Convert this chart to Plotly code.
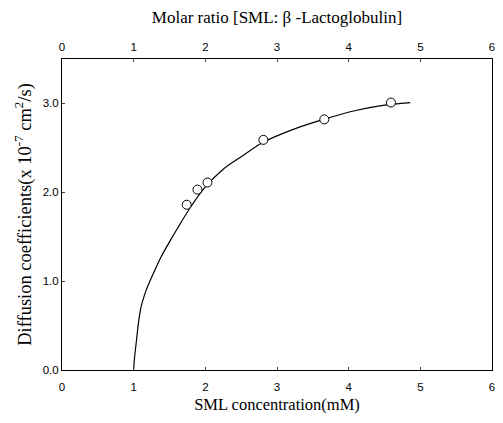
import plotly.graph_objects as go

# Measured data points (SML concentration mM, diffusion coefficient x1e-7 cm^2/s)
conc = [1.74, 1.89, 2.03, 2.81, 3.66, 4.59]
diff = [1.86, 2.03, 2.11, 2.59, 2.82, 3.01]

# Fitted curve
curve_x = [1.0, 1.01, 1.04, 1.07, 1.10, 1.13, 1.18, 1.26, 1.38, 1.52, 1.66, 1.8, 2.0, 2.25, 2.5, 2.8, 3.2, 3.65, 4.1, 4.5, 4.86]
curve_y = [0.0, 0.12, 0.34, 0.55, 0.70, 0.79, 0.91, 1.06, 1.27, 1.47, 1.66, 1.84, 2.06, 2.26, 2.40, 2.56, 2.70, 2.82, 2.92, 2.98, 3.01]

x_ticks = [0, 1, 2, 3, 4, 5, 6]
y_ticks = [0.0, 1.0, 2.0, 3.0]
y_tick_labels = ["0.0", "1.0", "2.0", "3.0"]

fig = go.Figure()
fig.add_trace(go.Scatter(x=curve_x, y=curve_y, mode="lines",
                         line=dict(color="black", width=1.2, shape="spline", smoothing=0.7),
                         showlegend=False, hoverinfo="skip"))
fig.add_trace(go.Scatter(x=conc, y=diff, mode="markers",
                         marker=dict(symbol="circle", size=9, color="white",
                                     line=dict(color="black", width=1)),
                         showlegend=False))
# invisible trace on top axis
fig.add_trace(go.Scatter(x=[0, 6], y=[0, 0], xaxis="x2", mode="lines",
                         line=dict(width=0), showlegend=False, hoverinfo="skip"))

tickfont = dict(family="Liberation Sans, Arial", size=11.5, color="black")
titlefont = dict(family="Liberation Serif, Times New Roman", size=16.5, color="black")
toptitlefont = dict(family="Liberation Serif, Times New Roman", size=17, color="black")
ytitlefont = dict(family="Liberation Serif, Times New Roman", size=18.5, color="black")

fig.update_layout(
    width=494, height=407,
    margin=dict(l=54, r=10, t=51, b=45),
    plot_bgcolor="white", paper_bgcolor="white",
    xaxis=dict(range=[0, 6], tickvals=x_ticks, ticks="inside", ticklen=3,
               showline=True, linecolor="black", linewidth=1, showgrid=False,
               zeroline=False, tickfont=tickfont, ticklabeloverflow="allow",
               ticklabelstandoff=6, automargin=False,
               title=dict(text="SML concentration(mM)", font=titlefont, standoff=6)),
    xaxis2=dict(range=[0, 6], tickvals=x_ticks, ticks="inside", ticklen=3,
                overlaying="x", side="top", showline=True, linecolor="black",
                linewidth=1, showgrid=False, zeroline=False, tickfont=tickfont,
                ticklabeloverflow="allow", ticklabelstandoff=2, automargin=False,
                title=dict(text="Molar ratio [SML: β -Lactoglobulin]", font=toptitlefont, standoff=13)),
    yaxis=dict(range=[0, 3.5], tickvals=y_ticks, ticktext=y_tick_labels,
               ticks="inside", ticklen=3, showline=True, linecolor="black",
               linewidth=1, mirror=True, showgrid=False, zeroline=False,
               tickfont=tickfont, automargin=False,
               title=dict(text="Diffusion coefficients(x 10<sup>-7</sup> cm<sup>2</sup>/s)",
                          font=ytitlefont, standoff=6)),
)

fig.write_html("out.html")
